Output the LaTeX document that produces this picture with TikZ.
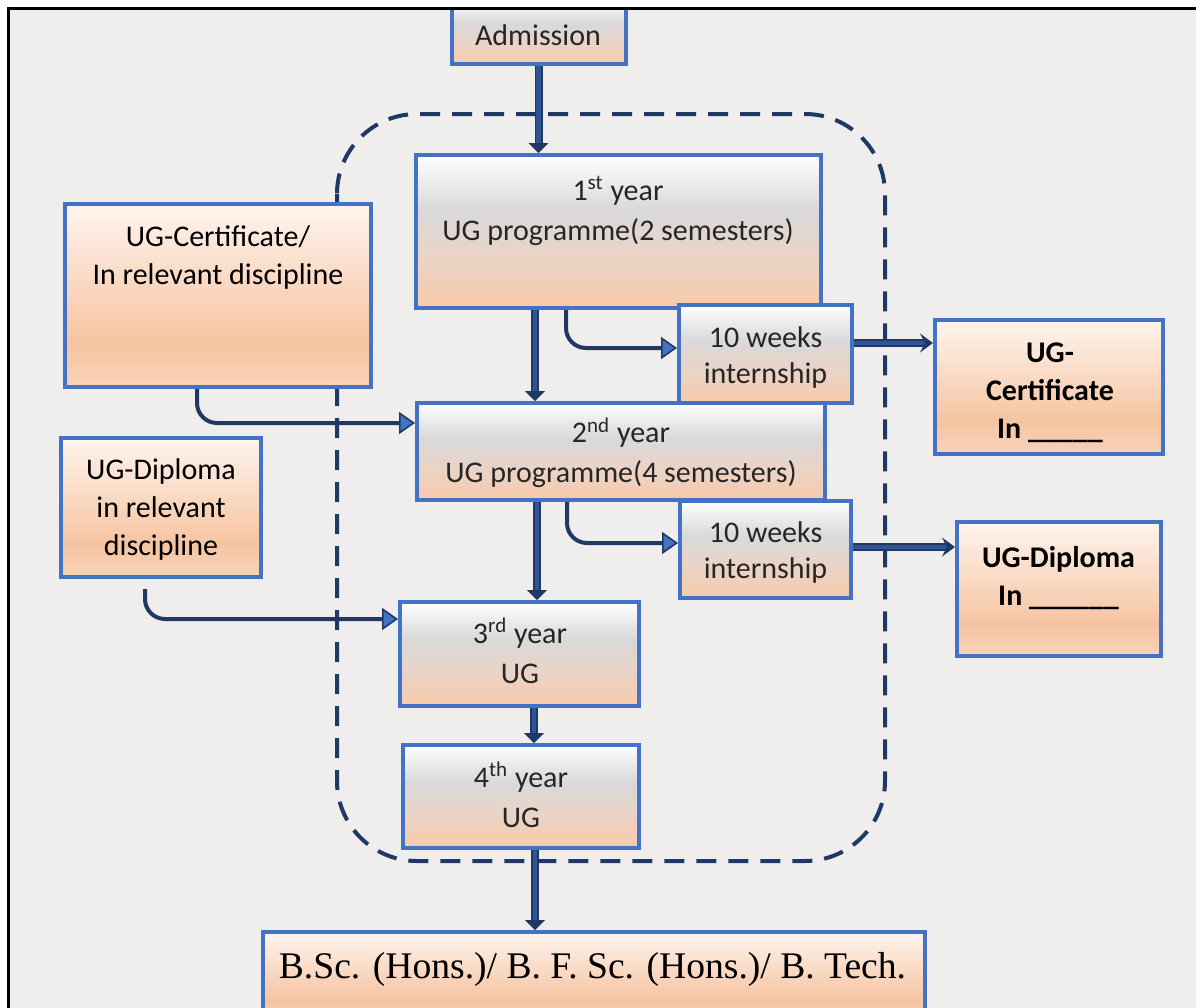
\documentclass[tikz,border=0pt]{standalone}
\usepackage{fontspec}
\setmainfont{Carlito}
\newfontfamily\timesf{Liberation Serif}
\usetikzlibrary{arrows.meta}
\definecolor{bgc}{HTML}{F0EEEC}
\definecolor{bord}{HTML}{4472C4}
\definecolor{navy}{HTML}{1F3864}
\definecolor{navymid}{HTML}{2F5597}
\definecolor{txtc}{HTML}{262626}
\definecolor{gwh}{HTML}{FEFEFE}
\definecolor{ggr}{HTML}{D9D9D9}
\definecolor{gpg}{HTML}{EBD3C4}
\definecolor{gpk}{HTML}{F8C9A9}
\definecolor{ptop}{HTML}{FEF4EE}
\definecolor{pmid}{HTML}{F6C4A1}
\definecolor{pbot}{HTML}{F9D2B9}
\pgfdeclareverticalshading{grayshade}{100bp}{color(0bp)=(gpk); color(25bp)=(gpk); color(40bp)=(gpg); color(57bp)=(ggr); color(75bp)=(gwh); color(100bp)=(gwh)}
\pgfdeclareverticalshading{peachshade}{100bp}{color(0bp)=(pbot); color(25bp)=(pbot); color(37bp)=(pmid); color(75bp)=(ptop); color(100bp)=(ptop)}
\tikzset{
  gbox/.style={draw=bord, line width=2pt, shade, shading=grayshade, inner sep=0pt},
  pbox/.style={draw=bord, line width=2pt, shade, shading=peachshade, inner sep=0pt},
  txt/.style={align=center, font=\fontsize{15}{19}\selectfont, text=txtc, inner sep=0pt},
  ytxt/.style={txt, font=\fontsize{15}{20}\selectfont},
  itxt/.style={txt, font=\fontsize{15}{18}\selectfont},
  btxt/.style={align=center, font=\fontsize{15}{19}\selectfont\bfseries, text=black, inner sep=0pt},
  dashline/.style={draw=navy, line width=2pt, dash pattern=on 10pt off 6pt, rounded corners=40pt},
  varrow/.style={draw=navy, line width=0.9pt, double=navymid, double distance=2.2pt, -{Triangle[length=5pt,width=10pt]}},
  harrow/.style={draw=navy, line width=0.9pt, double=navymid, double distance=2.2pt, -{Stealth[length=6.5pt,width=9.5pt,inset=2.5pt]}},
  carrow/.style={draw=navy, line width=2pt, rounded corners=10pt, -{Triangle[length=8pt,width=11pt,fill=bord,line width=0.8pt]}},
}
\begin{document}
\begin{tikzpicture}[x=0.5pt,y=-0.5pt]
\useasboundingbox (0,0) rectangle (1196,1008);
\fill[white] (0,0) rectangle (1196,1008);
\fill[bgc] (8,8) rectangle (1196,1008);

% dashed group
\draw[dashline] (337,114) rectangle (885,861);

% boxes
\node[gbox, minimum width=87pt, minimum height=32pt] (adm) at (538.5,32) {};
\node[gbox, minimum width=202.5pt, minimum height=76.5pt] (y1) at (618.5,231.5) {};
\node[gbox, minimum width=204pt, minimum height=48.5pt] (y2) at (621,451.5) {};
\node[gbox, minimum width=119.5pt, minimum height=52pt] (y3) at (519.5,654) {};
\node[gbox, minimum width=118pt, minimum height=51.5pt] (y4) at (521,796.5) {};
\node[gbox, minimum width=86.5pt, minimum height=49pt] (i1) at (765.5,354) {};
\node[gbox, minimum width=85.5pt, minimum height=48.5pt] (i2) at (765.5,549.5) {};
\node[pbox, minimum width=153pt, minimum height=91.5pt] (lc) at (218,295.5) {};
\node[pbox, minimum width=100pt, minimum height=69.5pt] (ld) at (161,507.5) {};
\node[pbox, minimum width=114pt, minimum height=67pt] (rc) at (1049,387) {};
\node[pbox, minimum width=102pt, minimum height=67pt] (rd) at (1059,589) {};
\node[pbox, minimum width=331pt, minimum height=45pt] (bt) at (594,977) {};

% texts
\node[txt] (admt) at (538,35) {Admission};
\node[ytxt] (y1t) at (618,211) {1\textsuperscript{st} year\\UG programme(2 semesters)};
\node[ytxt] (y2t) at (621,453) {2\textsuperscript{nd} year\\UG programme(4 semesters)};
\node[ytxt] (y3t) at (520,651) {3\textsuperscript{rd} year\\UG};
\node[ytxt] (y4t) at (521,795) {4\textsuperscript{th} year\\UG};
\node[itxt] (i1t) at (765.5,357) {10 weeks\\internship};
\node[itxt] (i2t) at (765.5,552) {10 weeks\\internship};
\node[txt, text=black] (lct) at (218,257) {UG-Certificate/\\In relevant discipline};
\node[txt, text=black] (ldt) at (161,509) {UG-Diploma\\in relevant\\discipline};
\node[btxt] (rct) at (1050,393) {UG-\\Certificate\\In \_\_\_\_\_};
\node[btxt] (rdt) at (1058.5,578) {UG-Diploma\\In \_\_\_\_\_\_};
\node[align=center, inner sep=0pt, text=black, font=\timesf\fontsize{18.8}{22}\selectfont] (btt) at (592.5,969) {B.Sc. (Hons.)/ B. F. Sc. (Hons.)/ B. Tech.};

% vertical arrows
\draw[varrow] (adm.south) -- (adm.south |- y1.north);
\coordinate (v1s) at ([xshift=-41.75pt]y1.south);
\draw[varrow] (v1s) -- (v1s |- y2.north);
\coordinate (v2s) at ([xshift=-42pt]y2.south);
\draw[varrow] (v2s) -- (v2s |- y3.north);
\coordinate (v3s) at ([xshift=7.25pt]y3.south);
\draw[varrow] (v3s) -- (v3s |- y4.north);
\coordinate (v4s) at ([xshift=7pt]y4.south);
\draw[varrow] (v4s) -- (v4s |- bt.north);

% curved arrows
\draw[carrow] ([xshift=-26.25pt]y1.south) |- ([yshift=3pt]i1.west);
\draw[carrow] ([xshift=-27pt]y2.south) |- ([yshift=3.25pt]i2.west);
\draw[carrow] ([xshift=-10.5pt]lc.south) |- ([yshift=14.25pt]y2.west);
\draw[carrow] ([xshift=-8pt,yshift=-5pt]ld.south) |- ([yshift=17.5pt]y3.west);

% horizontal double arrows
\coordinate (h1s) at ([yshift=5.5pt]i1.east);
\draw[harrow] (h1s) -- (h1s -| rc.west);
\coordinate (h2s) at ([yshift=1.25pt]i2.east);
\draw[harrow] (h2s) -- (h2s -| rd.west);

% outer frame
\fill[white] (0,0) rectangle (1196,7);
\draw[black, line width=1.3pt] (8.5,1020) -- (8.5,8.5) -- (1210,8.5);
\end{tikzpicture}
\end{document}
